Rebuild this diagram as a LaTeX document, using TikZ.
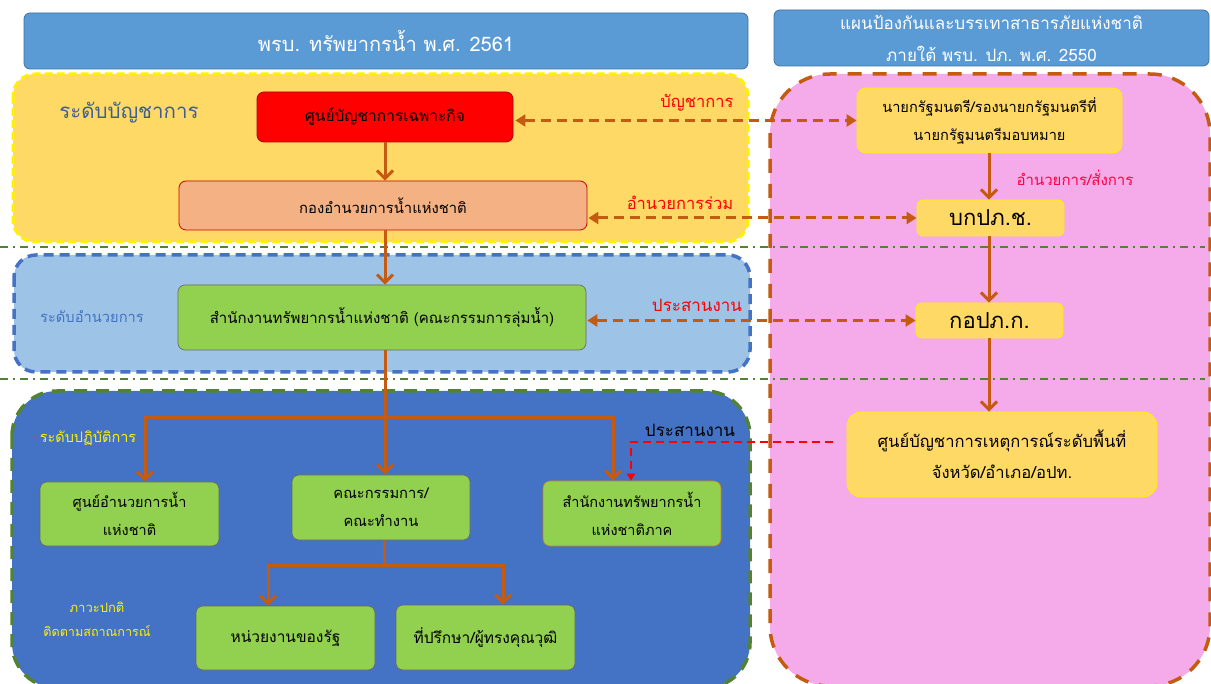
\documentclass[tikz,border=0pt]{standalone}
\usepackage{fontspec}
\setmainfont[Script=Thai]{Loma}
\usetikzlibrary{arrows.meta}

\definecolor{hdrblue}{HTML}{5B9BD5}
\definecolor{hdredge}{HTML}{41719C}
\definecolor{goldfill}{HTML}{FFD966}
\definecolor{skyfill}{HTML}{9DC3E6}
\definecolor{royal}{HTML}{4472C4}
\definecolor{pinkfill}{HTML}{F5AAE9}
\definecolor{rust}{HTML}{C55A11}
\definecolor{leaf}{HTML}{92D050}
\definecolor{salmon}{HTML}{F4B183}
\definecolor{moss}{HTML}{548235}
\definecolor{slateblue}{HTML}{3F5E98}
\definecolor{hotred}{HTML}{FF0040}

\newcommand{\fs}[2]{\fontsize{#1}{#2}\selectfont}

\tikzset{
  x=1pt, y=-1pt,
  box/.style={draw, rounded corners=7pt, align=center, inner sep=0pt, text=black},
  hdr/.style={box, fill=hdrblue, draw=hdredge, line width=0.8pt, text=white, rounded corners=6pt},
  greenbox/.style={box, fill=leaf, draw=black!60, line width=0.6pt},
  goldbox/.style={box, fill=goldfill, draw=yellow, line width=0.8pt, rounded corners=9pt},
  flow/.style={draw=rust, line width=3pt, -{Straight Barb[length=8pt,width=16pt,line width=3pt]}},
  flowline/.style={draw=rust, line width=3pt},
  link/.style={draw=rust, line width=3pt, dash pattern=on 10pt off 6pt,
    {Triangle[length=10pt,width=12pt]}-{Triangle[length=10pt,width=12pt]}},
  divider/.style={draw=moss, line width=2pt, dash pattern=on 8pt off 5pt on 2pt off 5pt},
  tag/.style={text=red, font=\fs{16.5}{20}, inner sep=0pt},
}

\begin{document}
\begin{tikzpicture}
\useasboundingbox (0,0) rectangle (1211,684);
\clip (0,0) rectangle (1211,684);

% level regions
\draw[fill=goldfill, draw=yellow, line width=3pt, dash pattern=on 8pt off 4pt, rounded corners=22pt]
  (13,74) rectangle (748,242);
\draw[fill=skyfill, draw=royal, line width=3.5pt, dash pattern=on 10pt off 6pt, rounded corners=22pt]
  (14,255) rectangle (750,372);
\draw[fill=royal, draw=moss, line width=3.5pt, dash pattern=on 13pt off 9pt, rounded corners=45pt]
  (12,391) rectangle (750,688);
\draw[fill=pinkfill, draw=rust, line width=3.5pt, dash pattern=on 14pt off 11pt, rounded corners=60pt]
  (770,74) rectangle (1210,686);

% level dividers
\draw[divider] (0,247) -- (1205,247);
\draw[divider] (0,379) -- (1205,379);

% headers
\node[hdr, minimum width=724pt, minimum height=56pt, font=\fs{20}{24}] (hdrL) at (386,41)
  {พรบ. ทรัพยากรน้ำ พ.ศ. 2561};
\node[hdr, minimum width=435pt, minimum height=56pt, font=\fs{17}{32}] (hdrR) at (991.5,38)
  {แผนป้องกันและบรรเทาสาธารภัยแห่งชาติ\\ภายใต้ พรบ. ปภ. พ.ศ. 2550};

% left column
\node[box, fill=red, draw=red!70!black, line width=0.8pt, minimum width=256pt, minimum height=50pt, font=\fs{15.5}{18}] (cmd) at (385,117)
  {ศูนย์บัญชาการเฉพาะกิจ};
\node[box, fill=salmon, draw=red!80!black, line width=0.8pt, minimum width=408pt, minimum height=49pt, font=\fs{14.8}{18}] (nwc) at (383,205.5)
  {กองอำนวยการน้ำแห่งชาติ};
\node[greenbox, minimum width=408pt, minimum height=65pt, font=\fs{15}{18}] (onwr) at (382,317.5)
  {สำนักงานทรัพยากรน้ำแห่งชาติ (คณะกรรมการลุ่มน้ำ)};
\node[greenbox, minimum width=179pt, minimum height=64pt, font=\fs{14.5}{28}] (cen1) at (129.5,514)
  {ศูนย์อำนวยการน้ำ\\แห่งชาติ};
\node[greenbox, minimum width=178pt, minimum height=65pt, font=\fs{14.7}{28}] (comm) at (381,507.5)
  {คณะกรรมการ/\\คณะทำงาน};
\node[greenbox, draw=rust!80!yellow, minimum width=178pt, minimum height=65pt, font=\fs{14.5}{28}] (reg) at (632,513.5)
  {สำนักงานทรัพยากรน้ำ\\แห่งชาติภาค};
\node[greenbox, minimum width=179pt, minimum height=64pt, font=\fs{15.5}{18}] (gov) at (285.5,638)
  {หน่วยงานของรัฐ};
\node[greenbox, minimum width=179pt, minimum height=65pt, font=\fs{15.5}{18}] (adv) at (485.5,637.5)
  {ที่ปรึกษา/ผู้ทรงคุณวุฒิ};

% right column
\node[goldbox, minimum width=265pt, minimum height=65pt, font=\fs{14.6}{28}] (pm) at (989.5,120.5)
  {นายกรัฐมนตรี/รองนายกรัฐมนตรีที่\\นายกรัฐมนตรีมอบหมาย};
\node[goldbox, rounded corners=6pt, minimum width=147pt, minimum height=36pt, font=\fs{22}{25}] (bk) at (990.5,218)
  {บกปภ.ช.};
\node[goldbox, rounded corners=6pt, minimum width=147pt, minimum height=35pt, font=\fs{22}{25}] (kp) at (989.5,320.5)
  {กอปภ.ก.};
\node[goldbox, rounded corners=14pt, minimum width=310pt, minimum height=85pt, font=\fs{16.6}{31}] (area) at (1002,454.5)
  {ศูนย์บัญชาการเหตุการณ์ระดับพื้นที่\\จังหวัด/อำเภอ/อปท.};

% level labels
\node[text=slateblue, font=\fs{20.5}{24}, inner sep=0pt] (lvl1) at (129,113) {ระดับบัญชาการ};
\node[text=royal, font=\fs{14.7}{18}, inner sep=0pt] (lvl2) at (92,317) {ระดับอำนวยการ};
\node[text=yellow, font=\fs{14.5}{18}, inner sep=0pt] (lvl3) at (88,438) {ระดับปฏิบัติการ};
\node[text=yellow, font=\fs{13}{16}, inner sep=0pt] (norm1) at (97,607) {ภาวะปกติ};
\node[text=yellow, font=\fs{12.6}{16}, inner sep=0pt] (norm2) at (97,631) {ติดตามสถาณการณ์};

% relation labels
\node[tag] (t1) at (697,103) {บัญชาการ};
\node[tag] (t2) at (680,203) {อำนวยการร่วม};
\node[tag, font=\fs{17}{20}] (t3) at (697,305) {ประสานงาน};
\node[tag, text=hotred, font=\fs{15}{18}] (t4) at (1075,178) {อำนวยการ/สั่งการ};
\node[tag, text=black, font=\fs{17}{20}] (t5) at (690,430) {ประสานงาน};

% command chain, left
\draw[flow] (cmd.south -| 385,0) -- (nwc.north -| 385,0);
\draw[flow] (nwc.south -| 385,0) -- (onwr.north -| 385,0);
\coordinate (j1) at (385,418);
\coordinate (jl) at (145,418);
\coordinate (jr) at (613,418);
\draw[flowline] (onwr.south -| j1) -- (j1);
\draw[flowline] (jl) -- (jr);
\draw[flow] ([yshift=1.5pt]jl) -- (cen1.north -| jl);
\draw[flow] (j1) -- (comm.north -| j1);
\draw[flow] ([yshift=1.5pt]jr) -- (reg.north -| jr);
\coordinate (j2) at (384,565);
\coordinate (j2l) at (268,565);
\coordinate (j2r) at (503,565);
\draw[flowline] (comm.south -| j2) -- (j2);
\draw[flowline] (j2l) -- (j2r);
\draw[flow] ([yshift=1.5pt]j2l) -- (gov.north -| j2l);
\draw[flow] ([yshift=1.5pt]j2r) -- (adv.north -| j2r);

% command chain, right
\draw[flow] (pm.south -| 989,0) -- (bk.north -| 989,0);
\draw[flow] (bk.south -| 989,0) -- (kp.north -| 989,0);
\draw[flow] (kp.south -| 989,0) -- (area.north -| 989,0);

% cross links
\draw[link] ([xshift=2pt]cmd.east |- pm.west) -- (pm.west);
\draw[link] ([xshift=1pt]nwc.east |- bk.west) -- (bk.west);
\draw[link] ([xshift=1pt]onwr.east |- kp.west) -- (kp.west);
\coordinate (r1) at (833,442);
\coordinate (r2) at (631,442);
\draw[red, line width=2pt, dash pattern=on 8pt off 5pt, -{Triangle[length=7pt,width=8pt]}]
  (r1) -- (r2) -- (reg.north -| r2);
\end{tikzpicture}
\end{document}
